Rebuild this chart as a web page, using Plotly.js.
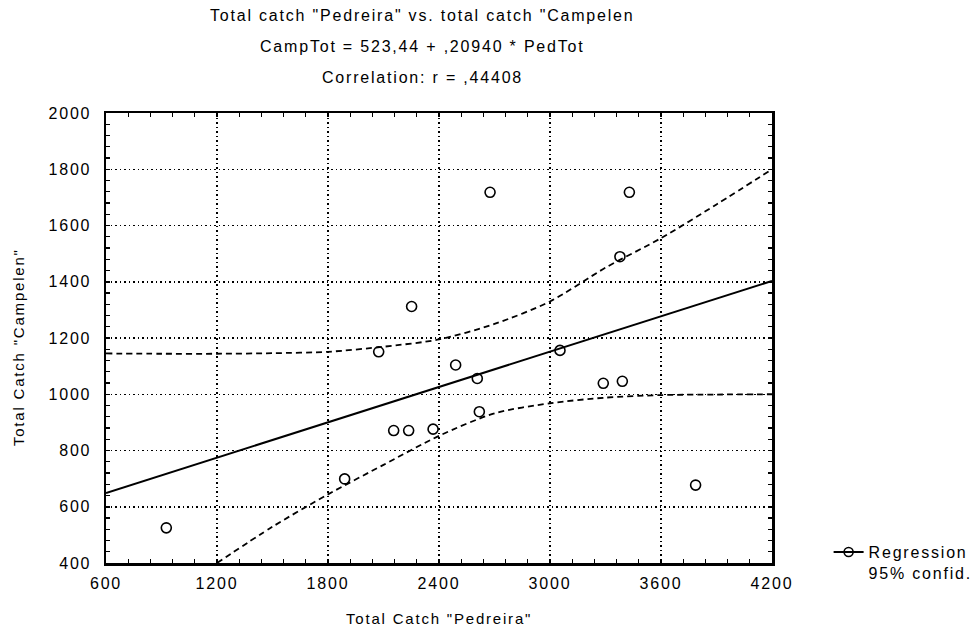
<!DOCTYPE html>
<html>
<head>
<meta charset="utf-8">
<script src="https://cdn.plot.ly/plotly-3.0.1.min.js"></script>
<style>
html,body{margin:0;padding:0;background:#fff;}
#chart{width:978px;height:632px;}
svg text{letter-spacing:1.8px;}
</style>
</head>
<body>
<div id="chart"></div>
<script>
// Observed data: total catch Pedreira (x) vs total catch Campelen (y)
const pedTot = [926, 1890, 2074, 2155, 2236, 2368, 2490, 2607, 2618, 2676, 3054, 3288, 3378, 3391, 3429, 3787, 2252];
const campTot = [525, 699, 1151, 871, 871, 876, 1104, 1056, 938, 1718, 1156, 1039, 1489, 1046, 1718, 677, 1312];

// Regression line endpoints
const regX = [600, 4200];
const regY = [649, 1403];

// 95% confidence band
const upperX = [600, 900, 1200, 1500, 1800, 2100, 2400, 2700, 3000, 3300, 3600, 3900, 4200];
const upperY = [1145, 1144, 1144, 1146, 1151, 1169, 1195, 1250, 1330, 1450, 1555, 1675, 1800];
const lowerX = [1200, 1500, 1800, 2100, 2400, 2700, 3000, 3300, 3600, 3900, 4200];
const lowerY = [400, 529, 644, 749, 852, 932, 968, 988, 997, 999, 1000];

// Axis ticks
const xTicks = [600, 1200, 1800, 2400, 3000, 3600, 4200];
const yTicks = [400, 600, 800, 1000, 1200, 1400, 1600, 1800, 2000];
const xMinorStep = 120;
const yMinorStep = 40;

const titleLines = [
  'Total catch "Pedreira" vs. total catch "Campelen',
  'CampTot = 523,44 + ,20940 * PedTot',
  'Correlation: r = ,44408'
];
const xTitle = 'Total Catch "Pedreira"';
const yTitle = 'Total Catch "Campelen"';
const legendLabel = 'Regression<br>95% confid.';

const FONT = 'Liberation Sans, Arial, sans-serif';
const dashStyle = '6px,4px';

const traces = [
  {x: upperX, y: upperY, mode: 'lines', line: {color: 'black', width: 1.8, dash: dashStyle, shape: 'spline', smoothing: 0.8}, showlegend: false, hoverinfo: 'skip'},
  {x: lowerX, y: lowerY, mode: 'lines', line: {color: 'black', width: 1.8, dash: dashStyle, shape: 'spline', smoothing: 0.8}, showlegend: false, hoverinfo: 'skip'},
  {x: regX, y: regY, mode: 'lines', line: {color: 'black', width: 2}, showlegend: false},
  {x: pedTot, y: campTot, mode: 'markers', marker: {symbol: 'circle-open', size: 10, color: 'black', line: {width: 1.6, color: 'black'}}, showlegend: false},
  {x: [null], y: [null], mode: 'lines+markers', name: legendLabel, line: {color: 'black', width: 2}, marker: {symbol: 'circle-open', size: 9, color: 'black', line: {width: 1.6}}, showlegend: true}
];

const titleY = [1.2156, 1.1478, 1.0789];
const annotations = titleLines.map((t, i) => ({
  text: t, xref: 'paper', yref: 'paper', x: 0.4745, y: titleY[i],
  xanchor: 'center', yanchor: 'middle', showarrow: false,
  font: {family: FONT, size: 16, color: 'black'}
}));
annotations.push({
  text: xTitle, xref: 'paper', yref: 'paper', x: 0.5, y: -0.124, xanchor: 'center', yanchor: 'middle',
  showarrow: false, font: {family: FONT, size: 15, color: 'black'}
});
annotations.push({
  text: yTitle, xref: 'paper', yref: 'paper', x: -0.132, y: 0.48, xanchor: 'center', yanchor: 'middle',
  textangle: -90, showarrow: false, font: {family: FONT, size: 15, color: 'black'}
});

const axisCommon = {
  showline: true, linecolor: 'black', linewidth: 2.5, mirror: 'allticks',
  tickmode: 'linear', ticks: 'inside', ticklen: 4, tickwidth: 1.5, tickcolor: 'black',
  showgrid: true, gridcolor: 'black', gridwidth: 1.5, griddash: '1.5px,3px',
  zeroline: false, tickfont: {family: FONT, size: 16, color: 'black'}
};

const layout = {
  width: 978, height: 632,
  margin: {l: 106, r: 206, t: 113, b: 69, autoexpand: false},
  paper_bgcolor: 'white', plot_bgcolor: 'white',
  showlegend: true,
  legend: {x: 1.085, y: 0.062, xanchor: 'left', yanchor: 'top', valign: 'top',
           font: {family: FONT, size: 16, color: 'black'}, bgcolor: 'rgba(0,0,0,0)'},
  xaxis: Object.assign({}, axisCommon, {
    range: [xTicks[0], xTicks[xTicks.length - 1]],
    tick0: xTicks[0], dtick: xTicks[1] - xTicks[0],
    minor: {ticks: 'inside', ticklen: 4, tickwidth: 1.2, tickcolor: 'black', dtick: xMinorStep, tick0: xTicks[0], showgrid: false},
    ticklabelstandoff: 4
  }),
  yaxis: Object.assign({}, axisCommon, {
    range: [yTicks[0], yTicks[yTicks.length - 1]],
    tick0: yTicks[0], dtick: yTicks[1] - yTicks[0],
    minor: {ticks: 'inside', ticklen: 4, tickwidth: 1.2, tickcolor: 'black', dtick: yMinorStep, tick0: yTicks[0], showgrid: false},
    ticklabelstandoff: 9
  }),
  annotations: annotations
};

Plotly.newPlot('chart', traces, layout, {staticPlot: true, displayModeBar: false});
</script>
</body>
</html>
